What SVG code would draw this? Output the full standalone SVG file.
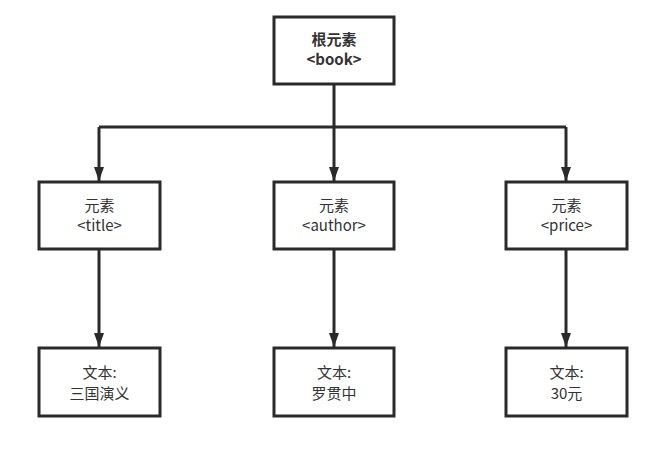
<svg xmlns="http://www.w3.org/2000/svg" width="653" height="460" viewBox="0 0 653 460">
<style>
.box{fill:#fff;stroke:#2a2a2a;stroke-width:3}
.ln{fill:none;stroke:#2a2a2a;stroke-width:3}
text{font-family:"Noto Sans CJK SC","Noto Sans",sans-serif;font-size:15px;fill:#333;text-anchor:middle}
.b{font-weight:bold}
</style>
<defs>
<marker id="a2" viewBox="0 0 14 10" refX="14" refY="5" markerWidth="14" markerHeight="10" markerUnits="userSpaceOnUse" orient="auto">
<path d="M0,0 L14,5 L0,10 Z" fill="#2a2a2a"/>
</marker>
</defs>
<g id="connectors">
<path class="ln" d="M334,85 V127 M99,127 H566"/>
<path class="ln" d="M99,127 V181" marker-end="url(#a2)"/>
<path class="ln" d="M334,127 V181" marker-end="url(#a2)"/>
<path class="ln" d="M566,127 V181" marker-end="url(#a2)"/>
<path class="ln" d="M99,250 V347" marker-end="url(#a2)"/>
<path class="ln" d="M334,250 V347" marker-end="url(#a2)"/>
<path class="ln" d="M566,250 V347" marker-end="url(#a2)"/>
</g>
<g id="root"><rect class="box" x="274" y="17" width="120" height="67"/>
<text class="b" x="334" y="45">根元素</text><text class="b" x="334" y="65">&lt;book&gt;</text></g>
<g id="title"><rect class="box" x="39" y="182" width="121" height="67"/>
<text x="99.5" y="211">元素</text><text x="99.5" y="231">&lt;title&gt;</text></g>
<g id="author"><rect class="box" x="274" y="182" width="120" height="67"/>
<text x="334" y="211">元素</text><text x="334" y="231">&lt;author&gt;</text></g>
<g id="price"><rect class="box" x="506" y="182" width="121" height="67"/>
<text x="566.5" y="211">元素</text><text x="566.5" y="231">&lt;price&gt;</text></g>
<g id="text1"><rect class="box" x="39" y="348" width="121" height="68"/>
<text x="99.5" y="378">文本:</text><text x="99.5" y="399">三国演义</text></g>
<g id="text2"><rect class="box" x="274" y="348" width="120" height="68"/>
<text x="334" y="378">文本:</text><text x="334" y="399">罗贯中</text></g>
<g id="text3"><rect class="box" x="506" y="348" width="121" height="68"/>
<text x="566.5" y="378">文本:</text><text x="566.5" y="399">30元</text></g>
</svg>
